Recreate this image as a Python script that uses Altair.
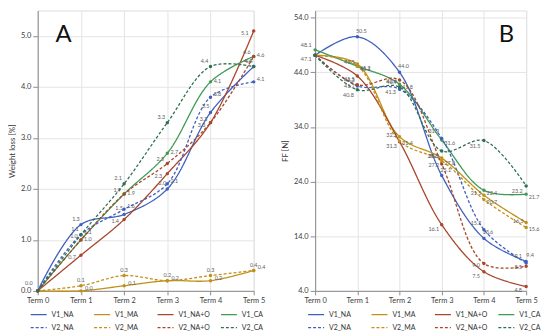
import altair as alt
import pandas as pd

terms = ["Term 0", "Term 1", "Term 2", "Term 3", "Term 4", "Term 5"]
series = ["V1_NA", "V1_MA", "V1_NA+O", "V1_CA", "V2_NA", "V2_MA", "V2_NA+O", "V2_CA"]

# Panel A: weight loss [%]
wl_v1_na = [0.0, 1.3, 1.5, 2.0, 3.5, 4.4]
wl_v1_ma = [0.0, 0.0, 0.1, 0.2, 0.2, 0.4]
wl_v1_nao = [0.0, 0.7, 1.4, 2.3, 3.3, 5.1]
wl_v1_ca = [0.0, 1.0, 1.9, 2.7, 4.1, 4.6]
wl_v2_na = [0.0, 1.1, 1.6, 2.1, 3.8, 4.1]
wl_v2_ma = [0.0, 0.1, 0.3, 0.2, 0.3, 0.4]
wl_v2_nao = [0.0, 1.0, 1.9, 2.5, 3.3, 4.6]
wl_v2_ca = [0.0, 1.1, 2.1, 3.3, 4.4, 4.4]

# Panel B: FF [N]
ff_v1_na = [47.1, 50.5, 44.0, 25.1, 13.6, 9.4]
ff_v1_ma = [47.1, 45.5, 32.2, 28.3, 21.5, 16.5]
ff_v1_nao = [47.1, 43.3, 31.3, 16.1, 7.5, 4.8]
ff_v1_ca = [48.1, 45.1, 41.8, 31.6, 22.4, 21.7]
ff_v2_na = [47.1, 41.5, 40.9, 31.9, 15.2, 9.1]
ff_v2_ma = [47.1, 45.2, 31.4, 27.8, 20.7, 15.6]
ff_v2_nao = [47.1, 41.7, 42.6, 27.2, 9.0, 8.5]
ff_v2_ca = [47.1, 40.8, 41.3, 29.6, 31.5, 23.2]

colors = ["#3f5fbf", "#c09018", "#a8452a", "#3f9a55",
          "#3f5fbf", "#c09018", "#a8452a", "#2f7050"]
dashes = [[1, 0], [1, 0], [1, 0], [1, 0], [3, 2], [3, 2], [3, 2], [3, 2]]

wl_lists = [wl_v1_na, wl_v1_ma, wl_v1_nao, wl_v1_ca, wl_v2_na, wl_v2_ma, wl_v2_nao, wl_v2_ca]
ff_lists = [ff_v1_na, ff_v1_ma, ff_v1_nao, ff_v1_ca, ff_v2_na, ff_v2_ma, ff_v2_nao, ff_v2_ca]

# label offsets (style), per series
offs_a = {"V1_NA": (-5, -6), "V1_MA": (8, -3), "V1_NA+O": (-9, 2), "V1_CA": (7, -1),
          "V2_NA": (7, -3), "V2_MA": (0, -6), "V2_NA+O": (-7, -4), "V2_CA": (-6, -6)}
offs_b = {"V1_NA": (4, -6), "V1_MA": (-8, -2), "V1_NA+O": (-8, 4), "V1_CA": (8, 3),
          "V2_NA": (-8, -7), "V2_MA": (8, 2), "V2_NA+O": (-8, 1), "V2_CA": (-9, 5)}


def to_df(lists):
    rows = []
    for s, vals in zip(series, lists):
        for t, v in zip(terms, vals):
            rows.append({"series": s, "term": t, "value": v})
    return pd.DataFrame(rows)


FONT = "Lato"


def panel(df, domain, ticks, ytitle, letter, letter_x, width, offs, start_labels):
    x = alt.X("term:N", sort=terms, scale=alt.Scale(type="point", padding=0),
              axis=alt.Axis(title=None, labelAngle=0, grid=True, gridColor="#e4e4e4",
                            domainColor="#8c8c8c", tickColor="#8c8c8c", tickSize=4,
                            labelFontSize=7.5, labelColor="#404040", labelPadding=2))
    y = alt.Y("value:Q", scale=alt.Scale(domain=domain, nice=False, zero=False),
              axis=alt.Axis(values=ticks, format=".1f", title=ytitle, grid=True,
                            gridColor="#e4e4e4", domainColor="#8c8c8c", tickColor="#8c8c8c",
                            tickSize=5, labelFontSize=7.5, labelColor="#404040",
                            titleFontSize=8, titleColor="#333333", titleFontWeight="normal",
                            labelPadding=2, titlePadding=4))
    legend = alt.Legend(orient="none", legendX=-8, legendY=298, direction="horizontal",
                        columns=4, title=None, symbolType="stroke", symbolSize=260,
                        symbolStrokeWidth=1.3, labelFontSize=7, labelColor="#333333",
                        gridAlign="all", columnPadding=8, rowPadding=1, labelFont=FONT)
    color = alt.Color("series:N", scale=alt.Scale(domain=series, range=colors), legend=legend)
    dash = alt.StrokeDash("series:N", scale=alt.Scale(domain=series, range=dashes), legend=legend)
    base = alt.Chart(df)
    lines = base.mark_line(interpolate="catmull-rom", strokeWidth=1.3).encode(
        x=x, y=y, color=color, strokeDash=dash)
    pts = base.mark_circle(size=12, opacity=1).encode(
        x=x, y=y, color=alt.Color("series:N", scale=alt.Scale(domain=series, range=colors), legend=None))
    layers = [lines, pts]
    for s in series:
        dx, dy = offs[s]
        layers.append(base.transform_filter(
            (alt.datum.series == s) & (alt.datum.term != "Term 0")).mark_text(
            fontSize=5.5, dx=dx, dy=dy, color="#606060", font=FONT).encode(
            x=x, y=y, text=alt.Text("value:Q", format=".1f")))
    for s, dy in start_labels:
        layers.append(base.transform_filter(
            (alt.datum.series == s) & (alt.datum.term == "Term 0")).mark_text(
            fontSize=5.5, dx=-9, dy=dy, color="#606060", font=FONT).encode(
            x=x, y=y, text=alt.Text("value:Q", format=".1f")))
    let = alt.Chart(pd.DataFrame({"t": [letter]})).mark_text(
        fontSize=24, font=FONT, color="#111111").encode(
        text="t:N", x=alt.value(letter_x), y=alt.value(25))
    layers.append(let)
    return alt.layer(*layers).properties(width=width, height=283)


a = panel(to_df(wl_lists), [0, 5.5], [0, 1, 2, 3, 4, 5], "Weight loss [%]", "A", 26, 218,
          offs_a, [("V1_NA", -8)])
b = panel(to_df(ff_lists), [4, 55.3], [4, 14, 24, 34, 44, 54], "FF [N]", "B", 193, 213,
          offs_b, [("V1_CA", -5), ("V1_NA", 4)])

chart = alt.hconcat(a, b, spacing=14).resolve_scale(
    color="independent", strokeDash="independent").resolve_legend(
    color="independent", strokeDash="independent").properties(
    padding={"left": 0, "top": 0, "right": 0, "bottom": 0}).configure_view(
    stroke="#e4e4e4").configure(font=FONT)

chart.save("out.html", embed_options={"renderer": "svg", "actions": False})
